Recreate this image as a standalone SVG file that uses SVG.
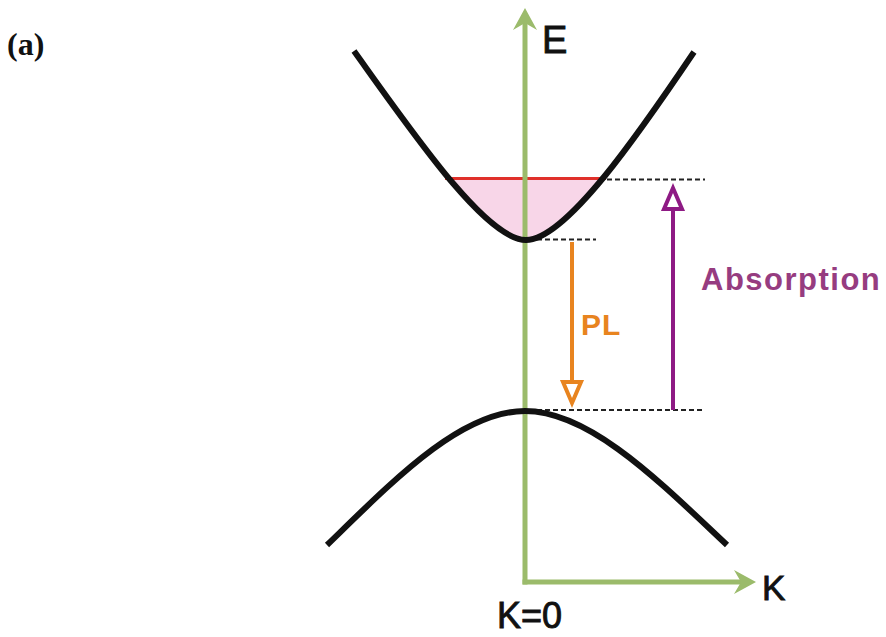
<svg xmlns="http://www.w3.org/2000/svg" width="886" height="637" viewBox="0 0 886 637">
<style>
.band{fill:none;stroke:#111;stroke-width:6;stroke-linecap:butt}
.axis{fill:none;stroke:#9bbb6b;stroke-width:5}
.head{fill:#9bbb6b;stroke:none}
.dash{fill:none;stroke:#222;stroke-width:2;stroke-dasharray:5 3}
.lbl{font-family:"Liberation Sans",Arial,sans-serif;fill:#111}
.ax{stroke:#111;stroke-width:0.9}
</style>
<defs>
<clipPath id="fillclip"><rect x="300" y="179" width="450" height="80"/></clipPath>
</defs>
<rect width="886" height="637" fill="#fff"/>
<g id="label-a"><text x="7" y="55" font-family="Liberation Serif,'Times New Roman',serif" font-weight="bold" font-size="32" fill="#111">(a)</text></g>
<g id="conduction-fill">
<path d="M354,51 C412,132 486,240 526,240 C566,240 640,132 694,52 Z" fill="#f8d6e8" clip-path="url(#fillclip)"/>
<line x1="445" y1="178.5" x2="606" y2="178.5" stroke="#e0302a" stroke-width="3"/>
</g>
<g id="connectors">
<line class="dash" x1="607" y1="179.5" x2="705" y2="179.5"/>
<line class="dash" x1="537" y1="239.5" x2="596" y2="239.5"/>
<line class="dash" x1="537" y1="410" x2="705" y2="410"/>
</g>
<g id="axes">
<line class="axis" x1="525" y1="22" x2="525" y2="584.5"/>
<line class="axis" x1="522.5" y1="582" x2="742" y2="582"/>
<path class="head" d="M525,8 L537,30 L525,23 L513,30 Z"/>
<path class="head" d="M756,582 L734,570 L741,582 L734,594 Z"/>
</g>
<g id="conduction-band"><path class="band" d="M354,51 C412,132 486,240 526,240 C566,240 640,132 694,52"/></g>
<g id="valence-band"><path class="band" d="M327,545 C392,482 460,411 525,411 C590,411 660,482 727,545"/></g>
<g id="pl-arrow">
<line x1="572" y1="242" x2="572" y2="382" stroke="#e8841f" stroke-width="4"/>
<path d="M563,382 L581,382 L572,403 Z" fill="#fff" stroke="#e8841f" stroke-width="4" stroke-linejoin="miter"/>
<text x="581" y="335" class="lbl" font-weight="bold" font-size="30" style="fill:#e8841f" letter-spacing="1">PL</text>
</g>
<g id="absorption-arrow">
<line x1="673" y1="410" x2="673" y2="208" stroke="#8e1a84" stroke-width="4"/>
<path d="M664,209 L682,209 L673,188 Z" fill="#fff" stroke="#8e1a84" stroke-width="4" stroke-linejoin="miter"/>
<text x="701" y="290" class="lbl" font-weight="bold" font-size="31" style="fill:#963c80" letter-spacing="1.5">Absorption</text>
</g>
<g id="axis-labels">
<text x="542" y="53" class="lbl ax" font-size="38">E</text>
<text x="762" y="600" class="lbl ax" font-size="35">K</text>
<text x="497" y="628" class="lbl ax" font-size="36">K=0</text>
</g>
</svg>
